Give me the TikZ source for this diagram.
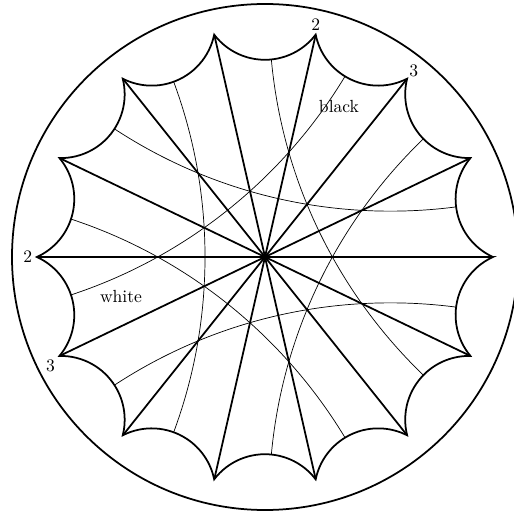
\documentclass[tikz,border=0pt]{standalone}
\usepackage{tikz}
\usetikzlibrary{positioning}
\tikzset{
  rim/.style={line width=1pt},
  side/.style={line width=1pt},
  spoke/.style={line width=1pt},
  geo/.style={line width=0.4pt},
  lbl/.style={inner sep=1pt}
}
% disk, vertex radius, edge circles, thin geodesics
\pgfmathsetmacro{\Rd}{2.53}
\pgfmathsetmacro{\rv}{2.28}
\pgfmathsetmacro{\ang}{360/14}
\pgfmathsetmacro{\dc}{(\rv*\rv+\Rd*\Rd)/(2*\rv*cos(\ang/2))}
\pgfmathsetmacro{\rc}{sqrt(\dc*\dc-\Rd*\Rd)}
\pgfmathsetmacro{\phic}{atan(\rv*sin(\ang/2)/(\dc-\rv*cos(\ang/2)))}
\pgfmathsetmacro{\hg}{0.60}
\pgfmathsetmacro{\Dg}{(\Rd*\Rd+\hg*\hg)/(2*\hg)}
\pgfmathsetmacro{\rg}{\Dg-\hg}

\begin{document}
\begin{tikzpicture}[x=2cm,y=2cm]
\useasboundingbox (-2.65,-2.57) rectangle (2.49,2.57);
\clip (-2.65,-2.57) rectangle (2.49,2.57);
\coordinate (o) at (0,0);
\foreach \k in {0,...,13} \coordinate (v\k) at ({\k*\ang}:\rv);
\draw[rim] (o) circle[radius=\Rd];
\begin{scope}
\clip (v0) \foreach \k in {0,...,13} {arc[start angle={(\k+.5)*\ang+180+\phic},end angle={(\k+.5)*\ang+180-\phic},radius=\rc]} -- cycle;
\foreach \j in {1,3,...,13} \draw[geo] ({\j*\ang}:\Dg) circle[radius=\rg];
\end{scope}
\draw[side] (v0) \foreach \k in {0,...,13} {arc[start angle={(\k+.5)*\ang+180+\phic},end angle={(\k+.5)*\ang+180-\phic},radius=\rc]} -- cycle;
\foreach \k in {0,...,13} \draw[spoke] (o) -- (v\k);
\node[lbl,above=1pt of v3] (topa) {2};
\node[lbl,above right=0pt of v2] (topb) {3};
\node[lbl,left=1.5pt of v7] (lefta) {2};
\node[lbl,below left=1pt and 1.5pt of v8] (leftb) {3};
\node[lbl] (blk) at (0.74,1.50) {black};
\node[lbl] (wht) at (-1.44,-0.39) {white};
\end{tikzpicture}
\end{document}
